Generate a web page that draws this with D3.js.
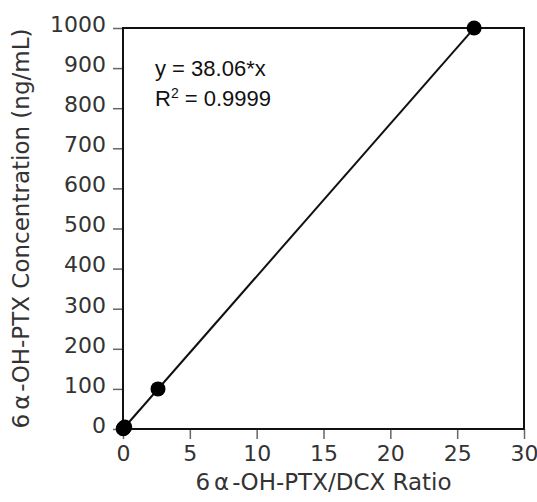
<!DOCTYPE html>
<html>
<head>
<meta charset="utf-8">
<script src="https://cdn.jsdelivr.net/npm/d3@7"></script>
<style>
  body { margin: 0; background: #fff; }
</style>
</head>
<body>
<div id="chart"></div>
<script>
// calibration points (ratio vs concentration)
var ratioValues = [0.013, 0.053, 0.131, 2.62, 26.27]
var concValues = [0.5, 2, 5, 100, 1000]
var slope = 38.06
var rSquared = "0.9999"
var xTicks = [0, 5, 10, 15, 20, 25, 30]
var yTicks = [0, 100, 200, 300, 400, 500, 600, 700, 800, 900, 1000]
var xTitle = ["6", "\u03b1", "-OH-PTX/DCX Ratio"]
var yTitle = ["6", "\u03b1", "-OH-PTX Concentration (ng/mL)"]

var W = 537, H = 502
var margin = {top: 28, right: 13, bottom: 73, left: 123}
var width = W - margin.left - margin.right
var height = H - margin.top - margin.bottom

var font = "'DejaVu Sans', sans-serif"

var svg = d3.select("#chart").append("svg")
  .attr("width", W)
  .attr("height", H)

var g = svg.append("g")
  .attr("transform", "translate(" + margin.left + "," + margin.top + ")")

var x = d3.scaleLinear().domain([0, 30]).range([0, width])
var y = d3.scaleLinear().domain([0, 1000]).range([height, 0])

// x axis
var xAxis = g.append("g")
  .attr("transform", "translate(0," + height + ")")
  .call(d3.axisBottom(x).tickValues(xTicks).tickFormat(d3.format("d")).tickSize(10).tickPadding(6))
xAxis.select(".domain").remove()
xAxis.selectAll("line").attr("stroke", "#666").attr("stroke-width", 1.5)
xAxis.selectAll("text")
  .attr("fill", "#333")
  .style("font-family", font)
  .style("font-size", "22px")

// y axis
var yAxis = g.append("g")
  .call(d3.axisLeft(y).tickValues(yTicks).tickFormat(d3.format("d")).tickSize(10).tickPadding(7))
yAxis.select(".domain").remove()
yAxis.selectAll("line").attr("stroke", "#666").attr("stroke-width", 1.5)
yAxis.selectAll("text")
  .attr("fill", "#333")
  .attr("dy", "0.15em")
  .style("font-family", font)
  .style("font-size", "22px")

// frame
g.append("rect")
  .attr("x", 0)
  .attr("y", 0)
  .attr("width", width)
  .attr("height", height)
  .attr("fill", "none")
  .attr("stroke", "#111")
  .attr("stroke-width", 2)

// fit line
var xMax = d3.max(ratioValues)
g.append("line")
  .attr("x1", x(0))
  .attr("y1", y(0))
  .attr("x2", x(xMax))
  .attr("y2", y(slope * xMax))
  .attr("stroke", "#111")
  .attr("stroke-width", 2)

// points
g.selectAll("circle.pt")
  .data(ratioValues)
  .enter()
  .append("circle")
    .attr("class", "pt")
    .attr("cx", function(d) { return x(d) })
    .attr("cy", function(d, i) { return y(concValues[i]) })
    .attr("r", 7.5)
    .attr("fill", "#000")

// equation
var eqFont = "'Liberation Sans', Arial, sans-serif"
g.append("text")
  .attr("x", 32)
  .attr("y", 48)
  .attr("fill", "#111")
  .style("font-family", eqFont)
  .style("font-size", "22px")
  .text("y = " + slope + "*x")

var r2 = g.append("text")
  .attr("x", 32)
  .attr("y", 78)
  .attr("fill", "#111")
  .style("font-family", eqFont)
  .style("font-size", "22px")
r2.append("tspan").text("R")
r2.append("tspan").attr("dy", -8).style("font-size", "14px").text("2")
r2.append("tspan").attr("dy", 8).text(" = " + rSquared)

// axis titles, alpha gets some room on both sides like the original
function addTitle(sel, parts) {
  sel.append("tspan").text(parts[0])
  sel.append("tspan").attr("dx", 4).text(parts[1])
  sel.append("tspan").attr("dx", 3).text(parts[2])
}

var xt = svg.append("text")
  .attr("x", margin.left + width / 2)
  .attr("y", 490)
  .attr("text-anchor", "middle")
  .attr("fill", "#333")
  .style("font-family", font)
  .style("font-size", "23px")
addTitle(xt, xTitle)

var yt = svg.append("text")
  .attr("transform", "translate(29," + (margin.top + height / 2) + ") rotate(-90)")
  .attr("text-anchor", "middle")
  .attr("fill", "#333")
  .style("font-family", font)
  .style("font-size", "23px")
addTitle(yt, yTitle)
</script>
</body>
</html>
